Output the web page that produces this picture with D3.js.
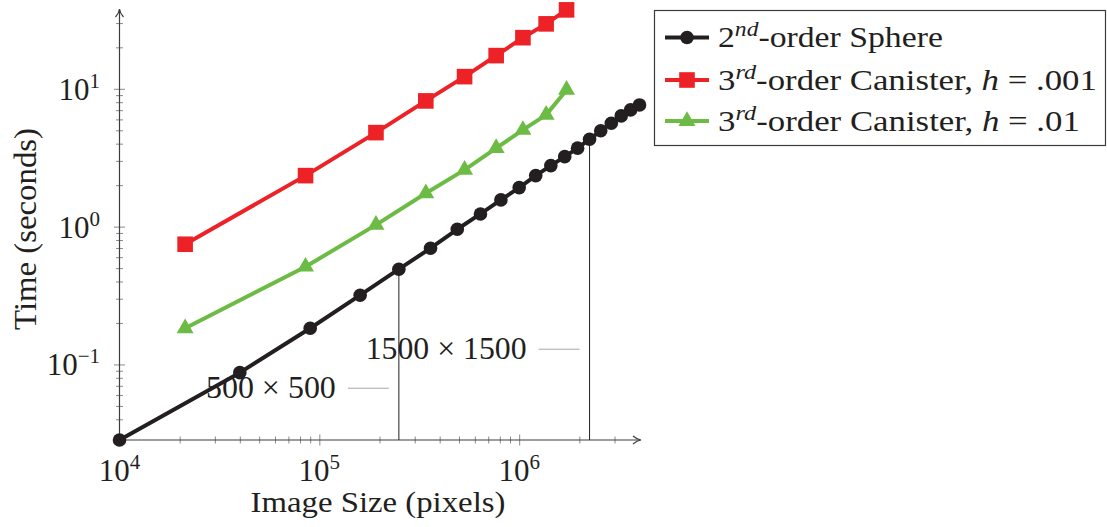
<!DOCTYPE html>
<html>
<head>
<meta charset="utf-8">
<script src="https://cdn.jsdelivr.net/npm/d3@7/dist/d3.min.js"></script>
<style>
  html, body { margin: 0; padding: 0; background: #ffffff; }
  svg { display: block; }
  text { font-family: "Liberation Serif", "DejaVu Serif", serif; fill: #231f20; }
</style>
</head>
<body>
<svg id="chart" width="1107" height="527"></svg>
<script>
// Image sizes (pixels) for the sphere runs: n x n with n = 100 ... 2000
const sphereSizes = [1e4, 4e4, 9e4, 1.6e5, 2.5e5, 3.6e5, 4.9e5, 6.4e5, 8.1e5, 1e6,
                     1.21e6, 1.44e6, 1.69e6, 1.96e6, 2.25e6, 2.56e6, 2.89e6, 3.24e6, 3.61e6, 4e6];
// Run time (seconds), 2nd-order sphere
const sphereTimes = [0.0283, 0.0872, 0.183, 0.318, 0.491, 0.697, 0.957, 1.236, 1.563, 1.919,
                     2.345, 2.772, 3.22, 3.71, 4.31, 4.96, 5.63, 6.36, 7.03, 7.64];

// Image sizes (pixels) for the canister runs
const canisterSizes = [21300, 85300, 192000, 341000, 533000, 767000, 1044000, 1364000, 1726000];
// Run time (seconds), 3rd-order canister, h = .001
const canisterFineTimes = [0.745, 2.345, 4.81, 8.17, 12.26, 17.42, 23.5, 29.6, 37.4];
// Run time (seconds), 3rd-order canister, h = .01
const canisterCoarseTimes = [0.183, 0.512, 1.03, 1.747, 2.58, 3.71, 5.03, 6.47, 9.82];

// Axis limits and labelled decades
const xDomain = [1e4, 4e6];
const yDomain = [0.0283, 36.7];
const xMajorExp = [4, 5, 6];
const yMajorExp = [-1, 0, 1];

// Marked image sizes along the sphere curve
const markSides = [500, 1500];
const markLabelTimes = [0.0672, 0.129];

const svg = d3.select("#chart");

const x = d3.scaleLog().domain(xDomain).range([119.5, 639.5]);
const y = d3.scaleLog().domain(yDomain).range([440, 11]);

const axisColor = "#3c3c3c";
const tickColor = "#8a8a8a";
const black = "#231f20", red = "#ec2227", green = "#6bbb45";

// Stretch a text horizontally (about its anchor) to a given width,
// giving the Times-like face the wider set of a TeX roman.
function fitWidth(sel, target) {
  const w = sel.node().getBBox().width;
  if (!w) return;
  const s = target / w;
  const ax = +sel.attr("x") || 0;
  const prev = sel.attr("transform") || "";
  sel.attr("transform", `${prev} translate(${ax},0) scale(${s},1) translate(${-ax},0)`);
}

// ---------- axes ----------
const minorX = [];
for (let e = 4; e <= 6; e++) for (let m = 1; m <= 9; m++) {
  const v = m * Math.pow(10, e);
  if (v > xDomain[0] && v < xDomain[1]) minorX.push(v);
}
const minorY = [];
for (let e = -2; e <= 1; e++) for (let m = 1; m <= 9; m++) {
  const v = m * Math.pow(10, e);
  if (v > yDomain[0] && v < yDomain[1]) minorY.push(v);
}

const gx = svg.append("g").attr("transform", "translate(0,440)");
gx.call(d3.axisBottom(x).tickValues(minorX).tickSize(0).tickFormat(""));
gx.select(".domain").remove();
gx.selectAll(".tick").each(function (d) {
  const major = Number.isInteger(Math.log10(d));
  d3.select(this).append("line")
    .attr("y1", major ? -5.5 : -3.5).attr("y2", major ? 5.5 : 3.5)
    .attr("stroke", tickColor).attr("stroke-width", 1);
});

const gy = svg.append("g").attr("transform", "translate(119.5,0)");
gy.call(d3.axisLeft(y).tickValues(minorY).tickSize(0).tickFormat(""));
gy.select(".domain").remove();
gy.selectAll(".tick").each(function (d) {
  const major = Math.abs(Math.log10(d) - Math.round(Math.log10(d))) < 1e-9;
  d3.select(this).append("line")
    .attr("x1", major ? -5.5 : -3.5).attr("x2", major ? 5.5 : 3.5)
    .attr("stroke", tickColor).attr("stroke-width", 1);
});

// axis lines with arrow heads
svg.append("line").attr("x1", 119.5).attr("y1", 440).attr("x2", 640).attr("y2", 440)
  .attr("stroke", axisColor).attr("stroke-width", 1.2);
svg.append("path").attr("d", "M633,436 Q637,439.4 641,440 Q637,440.6 633,444")
  .attr("fill", "none").attr("stroke", axisColor).attr("stroke-width", 1.2);
svg.append("line").attr("x1", 119.5).attr("y1", 440).attr("x2", 119.5).attr("y2", 10)
  .attr("stroke", axisColor).attr("stroke-width", 1.2);
svg.append("path").attr("d", "M115.5,17 Q119.1,13 119.5,9 Q119.9,13 123.5,17")
  .attr("fill", "none").attr("stroke", axisColor).attr("stroke-width", 1.2);

// tick labels: 10^k
xMajorExp.forEach(e => {
  const t = svg.append("text").attr("x", x(Math.pow(10, e))).attr("y", 481)
    .attr("text-anchor", "middle").attr("font-size", 31);
  t.append("tspan").text("10");
  t.append("tspan").attr("dy", -12).attr("font-size", 21).text(String(e));
});
yMajorExp.forEach(e => {
  const t = svg.append("text").attr("x", 100).attr("y", y(Math.pow(10, e)) + 11)
    .attr("text-anchor", "end").attr("font-size", 31);
  t.append("tspan").text("10");
  t.append("tspan").attr("dy", -12).attr("font-size", 21).text(e < 0 ? "\u2212" + (-e) : String(e));
});

// axis titles
const xTitle = svg.append("text").attr("x", 378).attr("y", 512).attr("text-anchor", "middle")
  .attr("font-size", 30).text("Image Size (pixels)");
fitWidth(xTitle, 255);
const yTitle = svg.append("text").attr("transform", "translate(36,229) rotate(-90)")
  .attr("text-anchor", "middle").attr("font-size", 31).text("Time (seconds)");
fitWidth(yTitle, 202);

// ---------- size markers along the sphere curve ----------
const markWidths = [130, 161];
markSides.forEach((s, i) => {
  const px = s * s;
  const idx = sphereSizes.indexOf(px);
  const xv = x(px);
  svg.append("line").attr("x1", xv).attr("x2", xv)
    .attr("y1", y(sphereTimes[idx])).attr("y2", 440)
    .attr("stroke", black).attr("stroke-width", 1);
  const ly = y(markLabelTimes[i]);
  svg.append("line").attr("x1", xv - 51).attr("x2", xv - 10).attr("y1", ly).attr("y2", ly)
    .attr("stroke", "#a8a8a8").attr("stroke-width", 1);
  const t = svg.append("text").attr("x", xv - 63).attr("y", ly + 10).attr("text-anchor", "end")
    .attr("font-size", 31).attr("fill", "#2a2a2a")
    .text(s + " \u00d7 " + s);
  fitWidth(t, markWidths[i]);
});

// ---------- series ----------
const line = d3.line().x(d => x(d[0])).y(d => y(d[1]));

const triPath = r => `M0,${-r}L${r * 0.866},${r / 2}L${-r * 0.866},${r / 2}Z`;

const series = [
  { sizes: canisterSizes, times: canisterCoarseTimes, color: green, mark: "triangle" },
  { sizes: canisterSizes, times: canisterFineTimes, color: red, mark: "square" },
  { sizes: sphereSizes, times: sphereTimes, color: black, mark: "circle" }
];

function drawMark(g, kind, color) {
  if (kind === "circle") g.append("circle").attr("r", 6.8).attr("fill", color);
  else if (kind === "square") g.append("rect").attr("x", -7.8).attr("y", -7.8)
    .attr("width", 15.6).attr("height", 15.6).attr("fill", color);
  else g.append("path").attr("d", triPath(9.8)).attr("fill", color);
}

series.forEach(s => {
  const pts = s.sizes.map((v, i) => [v, s.times[i]]);
  svg.append("path").datum(pts).attr("d", line)
    .attr("fill", "none").attr("stroke", s.color).attr("stroke-width", 4)
    .attr("stroke-linejoin", "round");
  pts.forEach(p => {
    const g = svg.append("g").attr("transform", `translate(${x(p[0])},${y(p[1])})`);
    drawMark(g, s.mark, s.color);
  });
});

// ---------- legend ----------
const legend = svg.append("g");
legend.append("rect").attr("x", 654.5).attr("y", 10.5).attr("width", 451).attr("height", 135)
  .attr("fill", "#ffffff").attr("stroke", "#3c3c3c").attr("stroke-width", 1.2);

const legendItems = [
  { sup: "nd", lead: "2", rest: "-order Sphere", h: null, color: black, mark: "circle" },
  { sup: "rd", lead: "3", rest: "-order Canister, ", h: ".001", color: red, mark: "square" },
  { sup: "rd", lead: "3", rest: "-order Canister, ", h: ".01", color: green, mark: "triangle" }
];
const rowY = [37.5, 80, 121];
const rowWidths = [225, 379, 362];

legendItems.forEach((it, i) => {
  const cy = rowY[i];
  legend.append("line").attr("x1", 665).attr("x2", 709).attr("y1", cy).attr("y2", cy)
    .attr("stroke", it.color).attr("stroke-width", 4);
  const g = legend.append("g").attr("transform", `translate(687,${cy})`);
  drawMark(g, it.mark, it.color);
  const t = legend.append("text").attr("x", 718).attr("y", cy + 10).attr("font-size", 30);
  t.append("tspan").text(it.lead);
  t.append("tspan").attr("dy", -11).attr("font-size", 21).attr("font-style", "italic").text(it.sup);
  t.append("tspan").attr("dy", 11).text(it.rest);
  if (it.h) {
    t.append("tspan").attr("font-style", "italic").text("h");
    t.append("tspan").text(" = " + it.h);
  }
  fitWidth(t, rowWidths[i]);
});
</script>
</body>
</html>
